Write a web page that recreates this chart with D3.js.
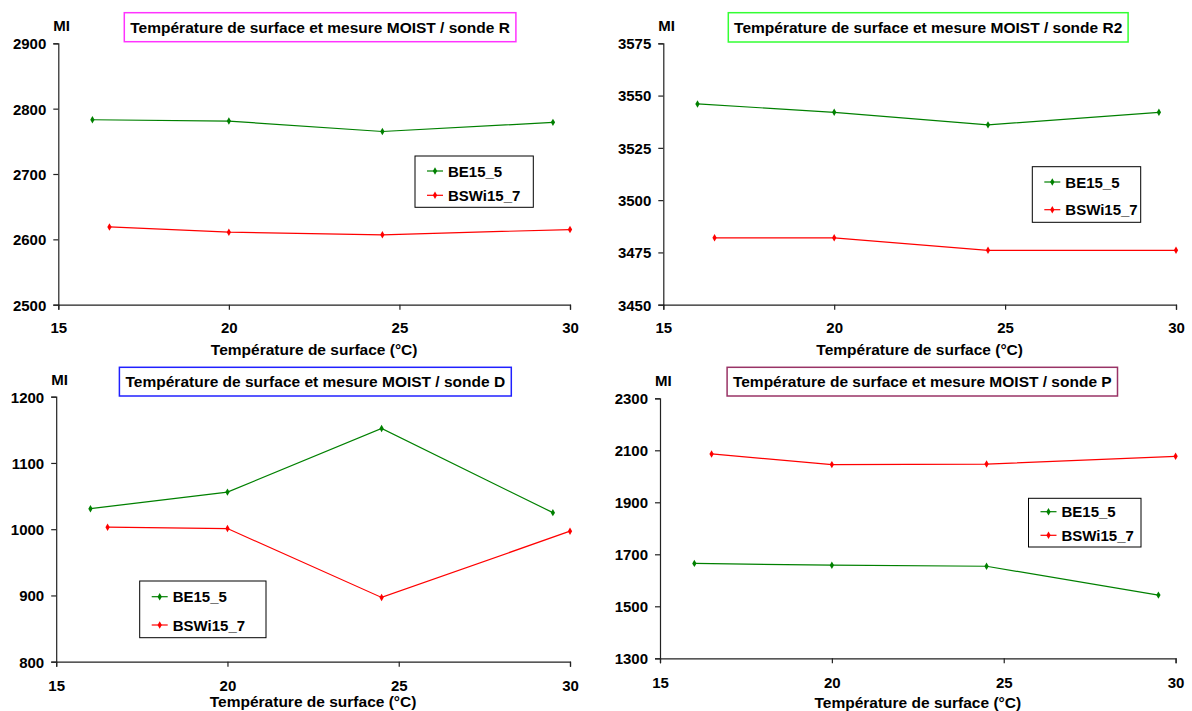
<!DOCTYPE html>
<html><head><meta charset="utf-8">
<script src="https://cdn.jsdelivr.net/npm/d3@7"></script>
<style>
html,body{margin:0;padding:0;background:#fff;}
svg text{font-family:"Liberation Sans",Arial,sans-serif;font-weight:bold;fill:#000;}
</style></head>
<body>
<svg id="c" width="1192" height="711"></svg>
<script>
// ---- data ----
const seriesNames = ["BE15_5", "BSWi15_7"];
const seriesColors = ["#008000", "#ff0000"];
const xTicks = [15, 20, 25, 30];
const xBE = [16, 20, 24.5, 29.5];
const xBSWi = [16.5, 20, 24.5, 30];

const titleR = "Température de surface et mesure MOIST / sonde R";
const yTicksR = [2500, 2600, 2700, 2800, 2900];
const beR = [2783, 2781, 2765, 2779];
const bswiR = [2619, 2611, 2607, 2615];

const titleR2 = "Température de surface et mesure MOIST / sonde R2";
const yTicksR2 = [3450, 3475, 3500, 3525, 3550, 3575];
const beR2 = [3546, 3542, 3536, 3542];
const bswiR2 = [3482, 3482, 3476, 3476];

const titleD = "Température de surface et mesure MOIST / sonde D";
const yTicksD = [800, 900, 1000, 1100, 1200];
const beD = [1031, 1056, 1152, 1025];
const bswiD = [1003, 1001, 897, 997];

const titleP = "Température de surface et mesure MOIST / sonde P";
const yTicksP = [1300, 1500, 1700, 1900, 2100, 2300];
const beP = [1665, 1658, 1654, 1543];
const bswiP = [2086, 2045, 2047, 2077];

const xTitle = "Température de surface (°C)";
const yTitle = "MI";

// ---- layout ----
const panels = [
  {title: titleR, yTicks: yTicksR, be: beR, bswi: bswiR, border: "#ff33ff",
   x0: 58.3, x1: 570, y0: 43.3, y1: 304.7, box: [124.3, 12.7, 515.9, 41.7],
   leg: [415, 156, 533.3, 207.3], legY: [171, 195.3], xlabY: 333, xtitleY: 355},
  {title: titleR2, yTicks: yTicksR2, be: beR2, bswi: bswiR2, border: "#33ff33",
   x0: 663.3, x1: 1176, y0: 43.3, y1: 304.7, box: [728.3, 12.7, 1128.1, 42],
   leg: [1032.3, 166.7, 1140.7, 222.3], legY: [182, 209.7], xlabY: 333, xtitleY: 355},
  {title: titleD, yTicks: yTicksD, be: beD, bswi: bswiD, border: "#2020ff",
   x0: 56.2, x1: 570, y0: 396.7, y1: 661.7, box: [119.4, 367.3, 511.3, 396],
   leg: [139.7, 581, 266, 637.7], legY: [596.7, 625], xlabY: 691, xtitleY: 707},
  {title: titleP, yTicks: yTicksP, be: beP, bswi: bswiP, border: "#993366",
   x0: 660, x1: 1175.6, y0: 398.3, y1: 658.3, box: [727.1, 367.3, 1117.5, 396],
   leg: [1028.5, 498.3, 1141, 547], legY: [511.7, 535.3], xlabY: 688, xtitleY: 708}
];

const svg = d3.select("#c");
const diamond = d3.symbol().type(d3.symbolDiamond).size(16);

panels.forEach(p => {
  const g = svg.append("g");
  const x = d3.scaleLinear().domain([15, 30]).range([p.x0, p.x1]);
  const y = d3.scaleLinear().domain([p.yTicks[0], p.yTicks[p.yTicks.length-1]]).range([p.y1, p.y0]);

  // axes
  const yAx = g.append("g").attr("transform", `translate(${p.x0},0)`)
    .call(d3.axisLeft(y).tickValues(p.yTicks).tickSize(5).tickPadding(7).tickFormat(d3.format("d")));
  const xAx = g.append("g").attr("transform", `translate(0,${p.y1})`)
    .call(d3.axisBottom(x).tickValues(xTicks).tickSize(5).tickPadding(9).tickFormat(d3.format("d")));
  [yAx, xAx].forEach(a => {
    a.select(".domain").attr("stroke", "#222").attr("stroke-width", 1.2);
    a.selectAll(".tick line").attr("stroke", "#222").attr("stroke-width", 1.2);
    a.selectAll("text").style("font-size", "15px").style("font-family", "Liberation Sans, Arial, sans-serif").style("font-weight", "bold").attr("fill", "#000");
  });
  yAx.selectAll("text").attr("dy", "0.36em");
  xAx.selectAll("text").attr("dy", null).attr("y", p.xlabY - p.y1).attr("dominant-baseline", "auto");

  // y title
  g.append("text").attr("x", p.x0 - 5).attr("y", p.y0 - 12).style("font-size", "15px").text(yTitle);
  // x title
  g.append("text").attr("x", (p.x0 + p.x1) / 2).attr("y", p.xtitleY).attr("text-anchor", "middle")
    .style("font-size", "15.5px").text(xTitle);

  // title box
  g.append("rect").attr("x", p.box[0]).attr("y", p.box[1]).attr("width", p.box[2]-p.box[0]).attr("height", p.box[3]-p.box[1])
    .attr("fill", "#fff").attr("stroke", p.border).attr("stroke-width", 1.5);
  g.append("text").attr("x", (p.box[0]+p.box[2])/2).attr("y", (p.box[1]+p.box[3])/2 + 5.5).attr("text-anchor", "middle")
    .style("font-size", "15.5px").text(p.title);

  // series
  const series = [
    {name: seriesNames[0], color: seriesColors[0], xs: xBE, ys: p.be},
    {name: seriesNames[1], color: seriesColors[1], xs: xBSWi, ys: p.bswi}
  ];
  const line = d3.line().x(d => x(d[0])).y(d => y(d[1]));
  series.forEach(s => {
    const pts = s.xs.map((v, i) => [v, s.ys[i]]);
    g.append("path").datum(pts).attr("d", line).attr("fill", "none").attr("stroke", s.color).attr("stroke-width", 1.2);
    g.selectAll(null).data(pts).enter().append("path")
      .attr("d", diamond).attr("transform", d => `translate(${x(d[0])},${y(d[1])})`).attr("fill", s.color);
  });

  // legend
  g.append("rect").attr("x", p.leg[0]).attr("y", p.leg[1]).attr("width", p.leg[2]-p.leg[0]).attr("height", p.leg[3]-p.leg[1])
    .attr("fill", "#fff").attr("stroke", "#000").attr("stroke-width", 1);
  series.forEach((s, i) => {
    const ly = p.legY[i];
    const lx = p.leg[0] + 12;
    g.append("line").attr("x1", lx).attr("x2", lx + 16).attr("y1", ly).attr("y2", ly).attr("stroke", s.color).attr("stroke-width", 1.2);
    g.append("path").attr("d", diamond).attr("transform", `translate(${lx + 8},${ly})`).attr("fill", s.color);
    g.append("text").attr("x", lx + 21).attr("y", ly + 5.5).style("font-size", "15px").text(s.name);
  });
});
</script>
</body></html>
